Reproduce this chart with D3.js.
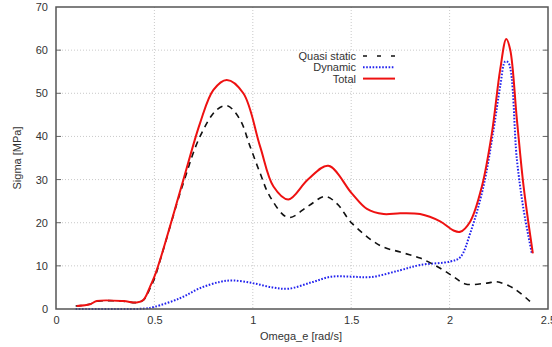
<!DOCTYPE html>
<html><head><meta charset="utf-8">
<script src="https://cdn.jsdelivr.net/npm/d3@7"></script>
<style>body{margin:0;background:#fff}svg{display:block}text{font-family:"Liberation Sans",Arial,sans-serif;fill:#333}</style>
</head><body><svg id="c" width="552" height="347"></svg>
<script>
const xTicks=[0,0.5,1,1.5,2,2.5];
const xTickLabels=["0","0.5","1","1.5","2","2.5"];
const yTicks=[0,10,20,30,40,50,60,70];
const seriesNames=["Quasi static","Dynamic","Total"];
const quasiX=[0.1,0.17,0.21,0.34,0.41,0.445,0.48,0.5,0.537,0.647,0.732,0.817,0.871,0.935,0.986,1.037,1.088,1.18,1.28,1.368,1.43,1.503,1.647,1.749,1.85,1.95,2.02,2.08,2.19,2.24,2.325,2.41];
const quasiY=[0.7,1.1,1.8,1.8,1.5,2.1,5.0,7.0,12.5,29.2,40,46.2,47.1,43.9,37.7,31.5,26,21.2,23.8,26.1,24.3,19.9,14.7,13.2,11.8,9.5,7.5,5.8,6.0,6.3,4.8,1.7];
const dynX=[0.1,0.3,0.45,0.5,0.63,0.73,0.834,0.9,1.0,1.1,1.18,1.3,1.4,1.5,1.6,1.75,1.85,2.003,2.054,2.105,2.172,2.223,2.257,2.283,2.30,2.342,2.376,2.418];
const dynY=[0,0,0.1,0.5,2.5,4.8,6.3,6.6,6.0,5.0,4.7,6.2,7.5,7.5,7.4,9.0,10.2,11.0,12.0,17.6,28.4,41.5,51.6,57.4,57,34.6,23,12.9];
const totX=[0.105,0.173,0.207,0.342,0.41,0.444,0.478,0.5,0.529,0.647,0.732,0.80,0.868,0.952,1.037,1.105,1.181,1.28,1.384,1.503,1.58,1.665,1.749,1.85,1.952,2.02,2.054,2.105,2.164,2.215,2.257,2.288,2.308,2.342,2.376,2.423];
const totY=[0.7,1.1,1.85,1.85,1.5,2.1,5.2,7.5,11.4,29.9,43.1,50.8,53.1,50,37.7,28.4,25.4,30,33.2,26.8,23.2,22,22.2,22.0,20.3,18.2,17.9,20.3,28.4,40.8,55.5,62.6,60.1,43.9,28.4,12.9];

const svg=d3.select("#c");
const L=56,R=548,T=7,B=309;
const x=d3.scaleLinear().domain([0,2.5]).range([L,R]);
const y=d3.scaleLinear().domain([0,70]).range([B,T]);
const g=svg.append("g");
g.selectAll(".gx").data(xTicks.slice(1,-1)).enter().append("line")
 .attr("x1",d=>x(d)).attr("x2",d=>x(d)).attr("y1",T).attr("y2",B)
 .attr("stroke","#bbb").attr("stroke-width",0.8).attr("stroke-dasharray","1,2");
g.selectAll(".gy").data(yTicks.slice(1,-1)).enter().append("line")
 .attr("y1",d=>y(d)).attr("y2",d=>y(d)).attr("x1",L).attr("x2",R)
 .attr("stroke","#bbb").attr("stroke-width",0.8).attr("stroke-dasharray","1,2");
svg.append("rect").attr("x",296).attr("y",52).attr("width",104).attr("height",32).attr("fill","#fff");
const xa=svg.append("g").attr("transform",`translate(0,${B})`).call(d3.axisBottom(x).tickValues(xTicks).tickFormat((d,i)=>xTickLabels[i]).tickSize(0).tickPadding(7));
const ya=svg.append("g").attr("transform",`translate(${L},0)`).call(d3.axisLeft(y).tickValues(yTicks).tickSize(0).tickPadding(8));
[xa,ya].forEach(a=>{a.select(".domain").remove();a.selectAll("text").attr("font-size",11).attr("fill","#333").attr("font-family","Liberation Sans, Arial, sans-serif");});
svg.append("g").selectAll("line").data(yTicks.slice(1,-1)).enter().append("line")
 .attr("x1",R).attr("x2",R-5).attr("y1",d=>y(d)).attr("y2",d=>y(d)).attr("stroke","#666");
svg.append("g").selectAll("line").data(yTicks.slice(1,-1)).enter().append("line")
 .attr("x1",L).attr("x2",L+5).attr("y1",d=>y(d)).attr("y2",d=>y(d)).attr("stroke","#666");
const line=d3.line().curve(d3.curveCatmullRom.alpha(0.5)).x(d=>x(d[0])).y(d=>y(d[1]));
const z=(a,b)=>a.map((v,i)=>[v,b[i]]);
svg.append("path").attr("d",line(z(dynX,dynY))).attr("fill","none").attr("stroke","#2222ee").attr("stroke-width",2).attr("stroke-dasharray","1.6,1.6");
svg.append("path").attr("d",line(z(quasiX,quasiY))).attr("fill","none").attr("stroke","#111").attr("stroke-width",1.6).attr("stroke-dasharray","6,5");
svg.append("path").attr("d",line(z(totX,totY))).attr("fill","none").attr("stroke","#ee1111").attr("stroke-width",2);
svg.append("rect").attr("x",L).attr("y",T).attr("width",R-L).attr("height",B-T).attr("fill","none").attr("stroke","#555").attr("stroke-width",1.5);
const styles=[{c:"#111",w:1.6,d:"4,10"},{c:"#2222ee",w:2,d:"1.6,1.6"},{c:"#ee1111",w:2,d:null}];
const lg=svg.append("g");
seriesNames.forEach((n,i)=>{
 const yy=56+i*11.3;
 lg.append("text").attr("x",356).attr("y",yy+4).attr("text-anchor","end").attr("font-size",11).text(n);
 const l=lg.append("line").attr("x1",363).attr("x2",395).attr("y1",yy).attr("y2",yy).attr("stroke",styles[i].c).attr("stroke-width",styles[i].w);
 if(styles[i].d) l.attr("stroke-dasharray",styles[i].d);
});
svg.append("text").attr("x",301).attr("y",340).attr("text-anchor","middle").attr("font-size",11).text("Omega_e [rad/s]");
svg.append("text").attr("transform","translate(21,158) rotate(-90)").attr("text-anchor","middle").attr("font-size",11).text("Sigma [MPa]");
</script></body></html>
